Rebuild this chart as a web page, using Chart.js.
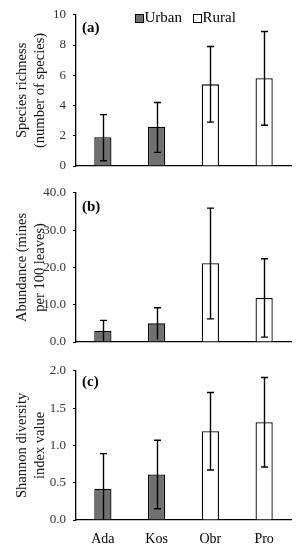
<!DOCTYPE html>
<html>
<head>
<meta charset="utf-8">
<script src="https://cdn.jsdelivr.net/npm/chart.js@4.4.0/dist/chart.umd.min.js"></script>
<style>
  html, body { margin: 0; padding: 0; background: #fff; }
  body { width: 300px; height: 550px; position: relative; overflow: hidden; }
  .pane { position: absolute; left: 0; width: 300px; }
</style>
</head>
<body>
<div class="pane" style="top:0px;height:182px"><canvas id="ca"></canvas></div>
<div class="pane" style="top:178px;height:180px"><canvas id="cb"></canvas></div>
<div class="pane" style="top:356px;height:194px"><canvas id="cc"></canvas></div>
<script>
// ---- data ----
const categories = ['Ada', 'Kos', 'Obr', 'Pro'];
const siteType = ['Urban', 'Urban', 'Rural', 'Rural'];
const legendLabels = ['Urban', 'Rural'];

const richnessMean  = [1.9, 2.6, 5.4, 5.8];
const richnessLower = [0.35, 0.9, 2.9, 2.7];
const richnessUpper = [3.4, 4.2, 7.9, 8.9];

const abundanceMean  = [3.0, 5.0, 21.1, 11.8];
const abundanceLower = [0.2, 0.7, 6.2, 1.3];
const abundanceUpper = [5.8, 9.2, 35.9, 22.3];

const shannonMean  = [0.42, 0.61, 1.19, 1.31];
const shannonLower = [0.0, 0.15, 0.67, 0.71];
const shannonUpper = [0.89, 1.07, 1.71, 1.91];

const richnessTicks  = [0, 2, 4, 6, 8, 10];
const abundanceTicks = [0, 10, 20, 30, 40];
const shannonTicks   = [0, 0.5, 1.0, 1.5, 2.0];

const richnessTitle  = ['Species richness', '(number of species)'];
const abundanceTitle = ['Abundance (mines', 'per 100 leaves)'];
const shannonTitle   = ['Shannon diversity', 'index value'];

// ---- styling ----
const SERIF = '"Liberation Serif", "Times New Roman", serif';
const typeFill = { Urban: '#707070', Rural: '#ffffff' };

const errorBars = {
  id: 'errorBars',
  afterDatasetsDraw(chart, args, opts) {
    const ctx = chart.ctx;
    const meta = chart.getDatasetMeta(0);
    const ys = chart.scales.y;
    ctx.save();
    ctx.strokeStyle = '#000';
    ctx.lineWidth = 1.4;
    meta.data.forEach((bar, i) => {
      const x = Math.round(bar.x) + 0.5;
      const yl = ys.getPixelForValue(opts.lower[i]);
      const yu = ys.getPixelForValue(opts.upper[i]);
      ctx.beginPath();
      ctx.moveTo(x, yl); ctx.lineTo(x, yu);
      ctx.moveTo(x - 3.5, yu); ctx.lineTo(x + 3.5, yu);
      if (opts.lower[i] > 0.02 * ys.max) { ctx.moveTo(x - 3.5, yl); ctx.lineTo(x + 3.5, yl); }
      ctx.stroke();
    });
    ctx.restore();
  }
};

const panelLabel = {
  id: 'panelLabel',
  afterDraw(chart, args, opts) {
    const ctx = chart.ctx;
    const a = chart.chartArea;
    ctx.save();
    ctx.fillStyle = '#000';
    ctx.font = 'bold 15px ' + SERIF;
    ctx.textBaseline = 'middle';
    ctx.textAlign = 'left';
    ctx.fillText(opts.text, a.left + 6, a.top + opts.dy);
    if (opts.legend) {
      ctx.font = '15px ' + SERIF;
      let x = 135;
      const yc = 18;
      opts.legend.forEach(lbl => {
        ctx.fillStyle = typeFill[lbl];
        ctx.fillRect(x, yc - 4, 8, 8);
        ctx.strokeStyle = '#000';
        ctx.lineWidth = 1;
        ctx.strokeRect(x + 0.5, yc - 3.5, 8, 8);
        ctx.fillStyle = '#000';
        ctx.fillText(lbl, x + 9.5, yc + 0.5);
        x += 9.5 + ctx.measureText(lbl).width + 11;
      });
    }
    ctx.restore();
  }
};

function makeChart(id, cfg) {
  const showX = !!cfg.showX;
  return new Chart(document.getElementById(id), {
    type: 'bar',
    data: {
      labels: categories,
      datasets: [{
        data: cfg.mean,
        backgroundColor: siteType.map(t => typeFill[t]),
        borderColor: '#000',
        borderWidth: 1.3,
        borderSkipped: 'bottom',
        barPercentage: 0.32,
        categoryPercentage: 1.0
      }]
    },
    options: {
      responsive: true,
      maintainAspectRatio: false,
      animation: false,
      events: [],
      layout: { padding: { top: cfg.top, left: 0, right: 9, bottom: 0 } },
      plugins: {
        legend: { display: false },
        tooltip: { enabled: false },
        errorBars: { lower: cfg.lower, upper: cfg.upper },
        panelLabel: { text: cfg.label, dy: cfg.labelDy, legend: cfg.legend }
      },
      scales: {
        x: {
          grid: { display: false, drawTicks: false },
          border: { display: true, color: '#000', width: 1.3 },
          ticks: {
            display: showX, color: '#000', padding: 11,
            font: { family: SERIF, size: 14 }
          },
          afterFit(s) { s.height = cfg.xh; }
        },
        y: {
          min: cfg.ticks[0],
          max: cfg.ticks[cfg.ticks.length - 1],
          afterBuildTicks(s) { s.ticks = cfg.ticks.map(v => ({ value: v })); },
          grid: { display: true, drawOnChartArea: false, drawTicks: true, tickLength: 3, color: '#000', lineWidth: 1 },
          border: { display: true, color: '#000', width: 1.3 },
          ticks: {
            color: '#333', padding: 7,
            font: { family: SERIF, size: 13 },
            callback: (v) => cfg.decimals ? Number(v).toFixed(1) : String(v)
          },
          title: {
            display: true, text: cfg.title, color: '#111',
            font: { family: SERIF, size: 14.5, lineHeight: 1.25 },
            padding: { top: 13, bottom: 0 }
          },
          afterFit(s) { s.width = 76; }
        }
      }
    },
    plugins: [errorBars, panelLabel]
  });
}

makeChart('ca', { mean: richnessMean, lower: richnessLower, upper: richnessUpper,
  ticks: richnessTicks, decimals: false, title: richnessTitle, label: '(a)', labelDy: 13,
  legend: legendLabels, top: 12, xh: 16 });
makeChart('cb', { mean: abundanceMean, lower: abundanceLower, upper: abundanceUpper,
  ticks: abundanceTicks, decimals: true, title: abundanceTitle, label: '(b)', labelDy: 14,
  top: 11, xh: 16 });
makeChart('cc', { mean: shannonMean, lower: shannonLower, upper: shannonUpper,
  ticks: shannonTicks, decimals: true, title: shannonTitle, label: '(c)', labelDy: 11,
  top: 10, xh: 30, showX: true });
</script>
</body>
</html>
